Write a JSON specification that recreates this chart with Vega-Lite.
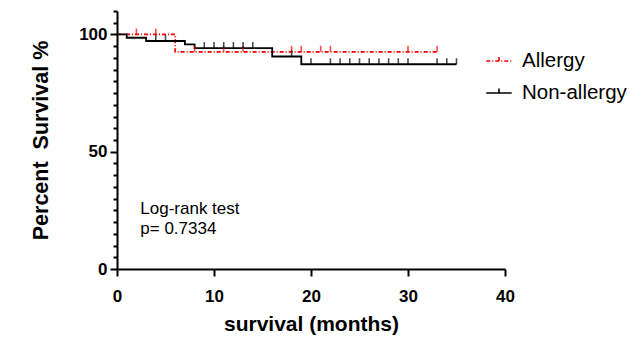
{
  "$schema": "https://vega.github.io/schema/vega-lite/v6.json",
  "width": 388,
  "height": 258,
  "autosize": {"type": "none"},
  "padding": {"left": 117, "top": 11, "right": 125, "bottom": 72},
  "background": "white",
  "config": {
    "view": {"stroke": null},
    "font": "Liberation Sans",
    "axis": {
      "domainColor": "black",
      "domainWidth": 2,
      "tickColor": "black",
      "tickWidth": 2,
      "labelColor": "black",
      "titleColor": "black",
      "grid": false,
      "labelFont": "Liberation Sans",
      "labelFontWeight": "bold",
      "labelFontSize": 17,
      "titleFont": "Liberation Sans",
      "titleFontWeight": "bold",
      "titleFontSize": 21
    }
  },
  "data": {
    "values": [
      {"kind": "curve", "group": "Allergy", "month": 0, "survival": 100},
      {"kind": "curve", "group": "Allergy", "month": 6, "survival": 92.6},
      {"kind": "curve", "group": "Allergy", "month": 33, "survival": 92.6},
      {"kind": "curve", "group": "Non-allergy", "month": 0, "survival": 100},
      {"kind": "curve", "group": "Non-allergy", "month": 1, "survival": 98.6},
      {"kind": "curve", "group": "Non-allergy", "month": 3, "survival": 97.2},
      {"kind": "curve", "group": "Non-allergy", "month": 7, "survival": 95.8},
      {"kind": "curve", "group": "Non-allergy", "month": 8, "survival": 94.2},
      {"kind": "curve", "group": "Non-allergy", "month": 16, "survival": 90.6},
      {"kind": "curve", "group": "Non-allergy", "month": 19, "survival": 87.3},
      {"kind": "curve", "group": "Non-allergy", "month": 35, "survival": 87.3},
      {"kind": "censor", "group": "Allergy", "month": 2, "survival": 100},
      {"kind": "censor", "group": "Allergy", "month": 4, "survival": 100},
      {"kind": "censor", "group": "Allergy", "month": 8, "survival": 92.6},
      {"kind": "censor", "group": "Allergy", "month": 11, "survival": 92.6},
      {"kind": "censor", "group": "Allergy", "month": 13, "survival": 92.6},
      {"kind": "censor", "group": "Allergy", "month": 18, "survival": 92.6},
      {"kind": "censor", "group": "Allergy", "month": 19, "survival": 92.6},
      {"kind": "censor", "group": "Allergy", "month": 21, "survival": 92.6},
      {"kind": "censor", "group": "Allergy", "month": 22, "survival": 92.6},
      {"kind": "censor", "group": "Allergy", "month": 30, "survival": 92.6},
      {"kind": "censor", "group": "Allergy", "month": 33, "survival": 92.6},
      {"kind": "censor", "group": "Non-allergy", "month": 4, "survival": 97.2},
      {"kind": "censor", "group": "Non-allergy", "month": 5, "survival": 97.2},
      {"kind": "censor", "group": "Non-allergy", "month": 9, "survival": 94.2},
      {"kind": "censor", "group": "Non-allergy", "month": 10, "survival": 94.2},
      {"kind": "censor", "group": "Non-allergy", "month": 11, "survival": 94.2},
      {"kind": "censor", "group": "Non-allergy", "month": 12, "survival": 94.2},
      {"kind": "censor", "group": "Non-allergy", "month": 13, "survival": 94.2},
      {"kind": "censor", "group": "Non-allergy", "month": 14, "survival": 94.2},
      {"kind": "censor", "group": "Non-allergy", "month": 18, "survival": 90.6},
      {"kind": "censor", "group": "Non-allergy", "month": 20, "survival": 87.3},
      {"kind": "censor", "group": "Non-allergy", "month": 22, "survival": 87.3},
      {"kind": "censor", "group": "Non-allergy", "month": 23, "survival": 87.3},
      {"kind": "censor", "group": "Non-allergy", "month": 24, "survival": 87.3},
      {"kind": "censor", "group": "Non-allergy", "month": 25, "survival": 87.3},
      {"kind": "censor", "group": "Non-allergy", "month": 26, "survival": 87.3},
      {"kind": "censor", "group": "Non-allergy", "month": 27, "survival": 87.3},
      {"kind": "censor", "group": "Non-allergy", "month": 28, "survival": 87.3},
      {"kind": "censor", "group": "Non-allergy", "month": 29, "survival": 87.3},
      {"kind": "censor", "group": "Non-allergy", "month": 30, "survival": 87.3},
      {"kind": "censor", "group": "Non-allergy", "month": 33, "survival": 87.3},
      {"kind": "censor", "group": "Non-allergy", "month": 34, "survival": 87.3},
      {"kind": "censor", "group": "Non-allergy", "month": 35, "survival": 87.3},
      {"kind": "note", "group": "note", "month": 2.4, "survival": 23.5, "label": "Log-rank test"},
      {"kind": "note", "group": "note", "month": 2.4, "survival": 15.0, "label": "p= 0.7334"}
    ]
  },
  "encoding": {
    "x": {
      "field": "month",
      "type": "quantitative",
      "scale": {"domain": [0, 40], "nice": false, "zero": false},
      "axis": {
        "values": [0, 10, 20, 30, 40],
        "tickSize": 7,
        "labelPadding": 12,
        "labelFlush": false,
        "labelBound": false,
        "title": "survival (months)",
        "titlePadding": 9
      }
    },
    "y": {
      "field": "survival",
      "type": "quantitative",
      "scale": {"domain": [0, 110], "nice": false},
      "axis": {
        "values": [0, 5, 10, 15, 20, 25, 30, 35, 40, 45, 50, 55, 60, 65, 70, 75, 80, 85, 90, 95, 100, 105, 110],
        "tickSize": {"condition": {"test": "datum.value % 50 === 0", "value": 7}, "value": 4},
        "labelExpr": "datum.value % 50 === 0 ? datum.label : ''",
        "labelOverlap": false,
        "labelBound": false,
        "labelFlush": false,
        "labelPadding": 3,
        "title": "Percent\u00a0 Survival %",
        "titleFontSize": 21.5,
        "titlePadding": 26
      }
    }
  },
  "layer": [
    {
      "transform": [{"filter": "datum.kind === 'curve'"}],
      "mark": {"type": "line", "interpolate": "step-after", "strokeWidth": 1.8},
      "encoding": {
        "color": {
          "field": "group",
          "type": "nominal",
          "scale": {"domain": ["Allergy", "Non-allergy"], "range": ["#ff0000", "#000000"]},
          "legend": {
            "title": null,
            "orient": "none",
            "legendX": 368,
            "legendY": 36,
            "symbolType": "M-1,0H1M0,0V-0.35",
            "symbolSize": 650,
            "symbolStrokeWidth": 1.6,
            "labelFontSize": 20.5,
            "labelFont": "Liberation Sans",
            "labelColor": "black",
            "labelOffset": 9,
            "rowPadding": 7
          }
        },
        "strokeDash": {
          "field": "group",
          "type": "nominal",
          "scale": {"domain": ["Allergy", "Non-allergy"], "range": [[4, 2, 1, 2], [1, 0]]},
          "legend": {
            "title": null,
            "orient": "none",
            "legendX": 368,
            "legendY": 36,
            "symbolType": "M-1,0H1M0,0V-0.35",
            "symbolSize": 650,
            "symbolStrokeWidth": 1.6,
            "labelFontSize": 20.5,
            "labelFont": "Liberation Sans",
            "labelColor": "black",
            "labelOffset": 9,
            "rowPadding": 7
          }
        }
      }
    },
    {
      "transform": [{"filter": "datum.kind === 'censor'"}],
      "mark": {"type": "tick", "orient": "vertical", "size": 6, "thickness": 1.6, "yOffset": -3},
      "encoding": {
        "color": {"field": "group", "type": "nominal", "legend": null}
      }
    },
    {
      "transform": [{"filter": "datum.kind === 'note'"}],
      "mark": {"type": "text", "align": "left", "baseline": "alphabetic", "fontSize": 17, "font": "Liberation Sans", "color": "black"},
      "encoding": {
        "text": {"field": "label", "type": "nominal"}
      }
    }
  ]
}
